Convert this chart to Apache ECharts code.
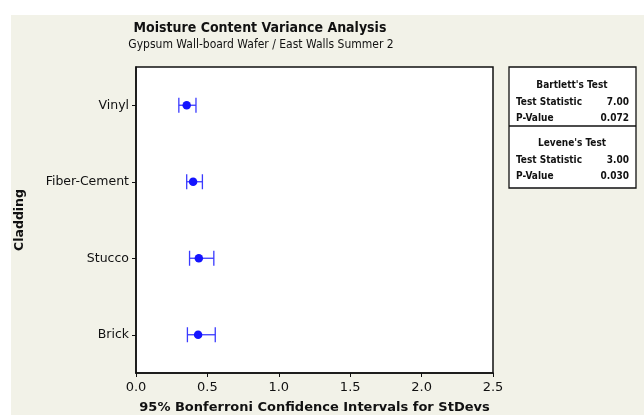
<!DOCTYPE html>
<html>
<head>
<meta charset="utf-8">
<script src="https://cdn.jsdelivr.net/npm/echarts@6/dist/echarts.min.js"></script>
<style>
html,body{margin:0;padding:0;background:#fff;}
#c{width:644px;height:415px;}
</style>
</head>
<body>
<div id="c"></div>
<script>
var categories = ['Vinyl', 'Fiber-Cement', 'Stucco', 'Brick'];
var stdevs = [0.355, 0.40, 0.44, 0.435];
var lowerCI = [0.30, 0.355, 0.375, 0.36];
var upperCI = [0.42, 0.465, 0.545, 0.555];
var xTicks = [0.0, 0.5, 1.0, 1.5, 2.0, 2.5];
var bartlett = {name: "Bartlett's Test", stat: '7.00', p: '0.072'};
var levene = {name: "Levene's Test", stat: '3.00', p: '0.030'};

var FONT = 'DejaVu Sans Condensed, DejaVu Sans, sans-serif';
var FONT2 = 'DejaVu Sans, sans-serif';
var chart = echarts.init(document.getElementById('c'), null, {renderer: 'canvas'});

function txt(x, y, s, align) {
  return {type: 'text', x: x, y: y, z: 7,
    style: {text: s, font: 'bold 10px ' + FONT, fill: '#111', align: align, verticalAlign: 'middle'}};
}
function statBlock(t, top) {
  return [
    txt(572, top, t.name, 'center'),
    txt(516, top + 17, 'Test Statistic', 'left'),
    txt(629, top + 17, t.stat, 'right'),
    txt(516, top + 33, 'P-Value', 'left'),
    txt(629, top + 33, t.p, 'right')
  ];
}

var graphics = [
  {type: 'rect', z: -10, shape: {x: 11, y: 15, width: 633, height: 400}, style: {fill: '#f2f2e8'}, silent: true},
  {type: 'rect', z: 5, shape: {x: 509, y: 67, width: 127, height: 121}, style: {fill: '#fff', stroke: '#111', lineWidth: 1.3}},
  {type: 'line', z: 6, shape: {x1: 509, y1: 126, x2: 636, y2: 126}, style: {stroke: '#111', lineWidth: 1.3}},
  {type: 'text', x: 260, y: 28, z: 7, style: {text: 'Moisture Content Variance Analysis', font: 'bold 14px ' + FONT, fill: '#111', align: 'center', verticalAlign: 'middle'}},
  {type: 'text', x: 261, y: 45, z: 7, style: {text: 'Gypsum Wall-board Wafer / East Walls Summer 2', font: 'normal 12px ' + FONT, fill: '#111', align: 'center', verticalAlign: 'middle'}}
];
graphics = graphics.concat(statBlock(bartlett, 85)).concat(statBlock(levene, 143));

var option = {
  backgroundColor: 'transparent',
  animation: false,
  grid: {left: 136, right: 151, top: 67, bottom: 42, outerBoundsMode: 'none', containLabel: false,
    show: true, backgroundColor: '#fff', borderColor: '#111', borderWidth: 1.5},
  xAxis: {
    type: 'value', min: xTicks[0], max: xTicks[xTicks.length - 1], interval: 0.5,
    name: '95% Bonferroni Confidence Intervals for StDevs', nameLocation: 'middle', nameGap: 28,
    nameTextStyle: {fontFamily: FONT2, fontWeight: 'bold', fontSize: 13, color: '#111'},
    axisLine: {show: true, lineStyle: {color: '#111', width: 1.5}},
    axisTick: {show: true, length: 4, lineStyle: {color: '#111'}},
    axisLabel: {fontFamily: FONT2, fontSize: 13, color: '#111', margin: 8,
      formatter: function (v) { return v.toFixed(1); }},
    splitLine: {show: false}
  },
  yAxis: {
    type: 'category', data: categories, inverse: true,
    name: 'Cladding', nameLocation: 'middle', nameRotate: 90, nameGap: 110,
    nameTextStyle: {fontFamily: FONT2, fontWeight: 'bold', fontSize: 12.5, color: '#111'},
    axisLine: {show: true, lineStyle: {color: '#111', width: 1.5}},
    axisTick: {show: true, alignWithLabel: true, length: 4, lineStyle: {color: '#111'}},
    axisLabel: {fontFamily: FONT2, fontSize: 12.5, color: '#111', margin: 7},
    splitLine: {show: false}
  },
  series: [
    {
      type: 'custom',
      data: categories.map(function (c, i) { return [i, lowerCI[i], upperCI[i]]; }),
      renderItem: function (params, api) {
        var idx = api.value(0);
        var lo = api.coord([api.value(1), idx]);
        var hi = api.coord([api.value(2), idx]);
        var h = 7.5;
        var st = {stroke: '#3a3aff', lineWidth: 1.3};
        return {type: 'group', children: [
          {type: 'line', shape: {x1: lo[0], y1: lo[1], x2: hi[0], y2: hi[1]}, style: st},
          {type: 'line', shape: {x1: lo[0], y1: lo[1] - h, x2: lo[0], y2: lo[1] + h}, style: st},
          {type: 'line', shape: {x1: hi[0], y1: hi[1] - h, x2: hi[0], y2: hi[1] + h}, style: st}
        ]};
      },
      encode: {x: [1, 2], y: 0},
      z: 3
    },
    {
      type: 'scatter',
      data: categories.map(function (c, i) { return [stdevs[i], c]; }),
      symbol: 'circle', symbolSize: 8.5,
      itemStyle: {color: '#1414ff', opacity: 1},
      z: 4
    }
  ],
  graphic: graphics
};
chart.setOption(option);
</script>
</body>
</html>
